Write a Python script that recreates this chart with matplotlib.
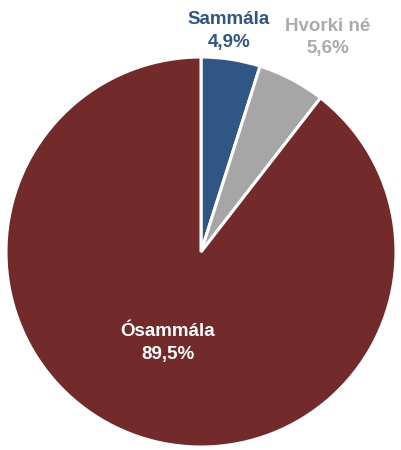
import matplotlib.pyplot as plt

labels = ['Sammála', 'Hvorki né', 'Ósammála']
values = [4.9, 5.6, 89.5]
colors = ['#2F5684', '#A6A6A6', '#722A2A']
text_colors = ['#2F5684', '#ABABAB', 'white']
label_pos = [(0.144, 1.133), (0.651, 1.10), (-0.169, -0.467)]

fig = plt.figure(figsize=(4.01, 4.5), dpi=100)
ax = fig.add_axes([6 / 401, 3 / 450, 390 / 401, 390 / 450])

ax.pie(values, colors=colors, startangle=90, counterclock=False,
       wedgeprops=dict(edgecolor='white', linewidth=2.2))
ax.set_xlim(-1, 1)
ax.set_ylim(-1, 1)
ax.set_aspect('equal')
ax.axis('off')

for lab, v, c, (x, y) in zip(labels, values, text_colors, label_pos):
    ax.text(x, y, f"{lab}\n{v:.1f}%".replace('.', ','), color=c, ha='center', va='center',
            fontsize=13.5, fontweight='bold', linespacing=1.45,
            family=['Liberation Sans', 'DejaVu Sans'], clip_on=False)

fig.savefig('out.png', dpi=100)
